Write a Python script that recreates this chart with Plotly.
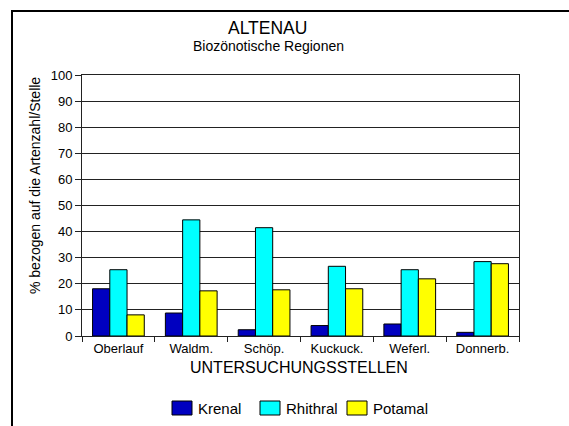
import plotly.graph_objects as go

categories = ["Oberlauf", "Waldm.", "Schöp.", "Kuckuck.", "Weferl.", "Donnerb."]
krenal = [18.1, 8.8, 2.4, 4.0, 4.6, 1.4]
rhithral = [25.4, 44.5, 41.5, 26.7, 25.4, 28.5]
potamal = [8.1, 17.3, 17.7, 18.1, 21.9, 27.7]
y_ticks = [0, 10, 20, 30, 40, 50, 60, 70, 80, 90, 100]
series_names = ["Krenal", "Rhithral", "Potamal"]
series_colors = ["#0000C0", "#00FFFF", "#FFFF00"]

FONT = "Liberation Sans, Arial, sans-serif"
W, H = 569, 426
L, R, T, B = 82, 50, 75, 90
pw, ph = W - L - R, H - T - B

def px_x(x):
    return (x - L) / pw

def px_y(y):
    return (H - B - y) / ph

fig = go.Figure()
for name, vals, col in zip(series_names, [krenal, rhithral, potamal], series_colors):
    fig.add_trace(go.Bar(x=categories, y=vals, name=name, showlegend=False,
                         marker=dict(color=col, line=dict(color="black", width=1))))

fig.update_layout(
    width=W, height=H,
    margin=dict(l=L, r=R, t=T, b=B, autoexpand=False),
    paper_bgcolor="white", plot_bgcolor="white",
    barmode="group", bargap=0.29, bargroupgap=0,
    font=dict(family=FONT, color="black", size=12),
    showlegend=False,
    xaxis=dict(showline=True, linecolor="#222", linewidth=1, mirror=True,
               ticks="outside", ticklen=5, tickcolor="#222", tickson="boundaries",
               tickfont=dict(size=13), showgrid=False),
    yaxis=dict(range=[0, 100], tickvals=y_ticks, showline=True, linecolor="#222",
               linewidth=1, mirror=True, ticks="outside", ticklen=6, tickcolor="#222",
               showgrid=True, gridcolor="#222", gridwidth=1, tickfont=dict(size=13),
               zeroline=False),
)

anns = [
    dict(text="ALTENAU", x=px_x(267), y=px_y(28), font=dict(size=17.5)),
    dict(text="Biozönotische Regionen", x=px_x(268), y=px_y(46), font=dict(size=14)),
    dict(text="UNTERSUCHUNGSSTELLEN", x=px_x(299), y=px_y(367), font=dict(size=16)),
    dict(text="% bezogen auf die Artenzahl/Stelle", x=px_x(35), y=px_y(186),
         textangle=-90, font=dict(size=14)),
]
for a in anns:
    fig.add_annotation(xref="paper", yref="paper", showarrow=False,
                       xanchor="center", yanchor="middle", **a)

# manual legend
legend_swatch_x = [172, 260, 347]
for name, col, sx in zip(series_names, series_colors, legend_swatch_x):
    fig.add_shape(type="rect", xref="paper", yref="paper",
                  x0=px_x(sx), x1=px_x(sx + 20), y0=px_y(415), y1=px_y(401),
                  fillcolor=col, line=dict(color="black", width=1))
    fig.add_annotation(xref="paper", yref="paper", showarrow=False,
                       x=px_x(sx + 24), y=px_y(408), xanchor="left", yanchor="middle",
                       text=name, font=dict(size=15))

fig.add_shape(type="rect", xref="paper", yref="paper",
              x0=px_x(12), x1=px_x(600), y0=px_y(460), y1=px_y(11),
              line=dict(color="black", width=2), layer="below")

fig.write_html("out.html", config={"displayModeBar": False},
               post_script="document.body.style.margin='0';document.body.style.overflow='hidden';")
